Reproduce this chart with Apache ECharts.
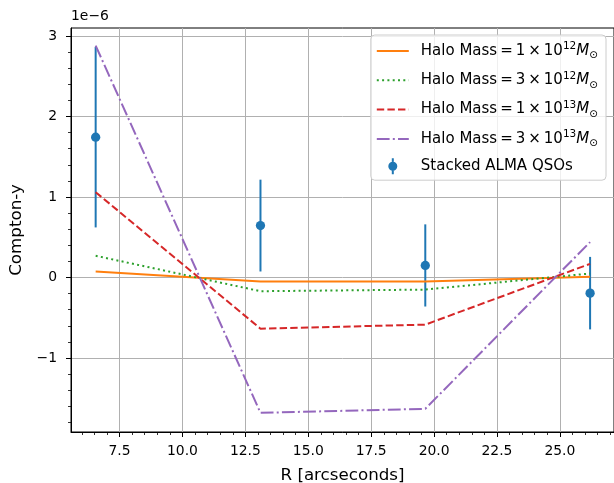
<!DOCTYPE html>
<html><head><meta charset="utf-8">
<script src="https://cdn.jsdelivr.net/npm/echarts@6/dist/echarts.min.js"></script>
<style>html,body{margin:0;padding:0;background:#fff}#c{width:614px;height:483px}</style>
</head><body><div id="c"></div>
<script>
// ---- data (Compton-y in units of 1e-6) ----
const rValues   = [6.55, 13.1, 19.65, 26.2];
const massCoef  = ['1', '3', '1', '3'];
const massExp   = ['12', '12', '13', '13'];
const model1e12 = [0.075, -0.05, -0.05, 0.01];
const model3e12 = [0.27, -0.17, -0.15, 0.05];
const model1e13 = [1.06, -0.635, -0.585, 0.17];
const model3e13 = [2.88, -1.68, -1.63, 0.44];
const qsoY      = [1.742, 0.645, 0.15, -0.194];
const qsoErr    = [1.12, 0.57, 0.51, 0.45];
const qsoName   = 'Stacked ALMA QSOs';
const xMajorTicks = [7.5, 10, 12.5, 15, 17.5, 20, 22.5, 25];
const xMinorTicks = [6, 6.5, 7, 8, 8.5, 9, 9.5, 10.5, 11, 11.5, 12, 13, 13.5, 14, 14.5, 15.5, 16, 16.5, 17,
                     18, 18.5, 19, 19.5, 20.5, 21, 21.5, 22, 23, 23.5, 24, 24.5, 25.5, 26, 26.5, 27];
const yMajorTicks = [-1, 0, 1, 2, 3];
const yMinorTicks = [-1.8, -1.6, -1.4, -1.2, -0.8, -0.6, -0.4, -0.2, 0.2, 0.4, 0.6, 0.8,
                     1.2, 1.4, 1.6, 1.8, 2.2, 2.4, 2.6, 2.8];
const xLabel = 'R [arcseconds]';
const yLabel = 'Compton-y';
const offsetText = '1e\u22126';

// ---- styling ----
const FONT = 'DejaVu Sans';
const LFS = 15;    // legend font size
const X_MIN = 5.57, X_MAX = 27.15, Y_MIN = -1.918, Y_MAX = 3.098;
const models = [model1e12, model3e12, model1e13, model3e13];
const lineColors = ['#ff7f0e', '#2ca02c', '#d62728', '#9467bd'];
const lineTypes = ['solid', [2, 3.3], [7.4, 3.2], [12.8, 3.2, 2, 3.2]];
const lineNames = massCoef.map((c, i) => 'Halo Mass = ' + c + ' \u00d7 10^' + massExp[i] + ' M\u2299');

const chart = echarts.init(document.getElementById('c'), null, {renderer: 'canvas'});

const gridPos = {left: 71, top: 28, right: 0, bottom: 51};

function mainAxisCommon(min, max, ticks) {
  return {
    type: 'value', min: min, max: max,
    axisLine: {show: true, onZero: false, lineStyle: {color: '#000', width: 1}},
    axisTick: {show: true, customValues: ticks, length: 5, lineStyle: {color: '#000', width: 1}},
    axisLabel: {show: true, customValues: ticks, fontFamily: FONT, fontSize: 13.9, color: '#000'},
    splitLine: {show: true, lineStyle: {color: '#b0b0b0', width: 1}},
    minorTick: {show: false}
  };
}
function minorAxis(min, max, ticks, pos) {
  return {
    type: 'value', min: min, max: max, position: pos, offset: 0,
    axisLine: {show: false, onZero: false},
    axisTick: {show: true, customValues: ticks, length: 3, lineStyle: {color: '#000', width: 0.8}},
    axisLabel: {show: false},
    splitLine: {show: false}
  };
}

const xMain = mainAxisCommon(X_MIN, X_MAX, xMajorTicks);
xMain.position = 'bottom';
xMain.axisLabel.margin = 12;
xMain.axisLabel.formatter = v => v.toFixed(1);
xMain.name = xLabel; xMain.nameLocation = 'middle'; xMain.nameGap = 35;
xMain.nameTextStyle = {fontFamily: FONT, fontSize: 16.7, color: '#000'};

const yMain = mainAxisCommon(Y_MIN, Y_MAX, yMajorTicks);
yMain.position = 'left';
yMain.axisLabel.margin = 14;
yMain.axisLabel.formatter = v => String(Math.round(v)).replace('-', '\u2212');
yMain.name = yLabel; yMain.nameLocation = 'middle'; yMain.nameGap = 45;
yMain.nameTextStyle = {fontFamily: FONT, fontSize: 16.7, color: '#000'};

const series = [];
series.push({
  type: 'custom', name: 'errbars', xAxisIndex: 0, yAxisIndex: 0, z: 1, silent: true,
  data: rValues.map((x, i) => [x, qsoY[i] - qsoErr[i], qsoY[i] + qsoErr[i]]),
  encode: {x: 0, y: [1, 2]},
  renderItem: function (params, api) {
    const p1 = api.coord([api.value(0), api.value(1)]);
    const p2 = api.coord([api.value(0), api.value(2)]);
    return {type: 'line', shape: {x1: p1[0], y1: p1[1], x2: p2[0], y2: p2[1]},
            style: {stroke: '#1f77b4', lineWidth: 2}};
  }
});
series.push({
  type: 'scatter', name: qsoName, xAxisIndex: 0, yAxisIndex: 0, z: 1,
  data: rValues.map((x, i) => [x, qsoY[i]]),
  symbol: 'circle', symbolSize: 9.3,
  itemStyle: {color: '#1f77b4', opacity: 1}
});
models.forEach((m, k) => {
  series.push({
    type: 'line', name: lineNames[k], xAxisIndex: 0, yAxisIndex: 0, z: 3,
    data: rValues.map((x, i) => [x, m[i]]),
    symbol: 'none', showSymbol: false,
    lineStyle: {color: lineColors[k], width: 2, type: lineTypes[k], cap: 'butt'},
    itemStyle: {color: lineColors[k]}
  });
});

const errIcon = 'path://M4,0 L6,0 L6,3.5 L4,3.5 Z M4,12.5 L6,12.5 L6,16 L4,16 Z ' +
                'M9.5,8 A4.5,4.5 0 1 1 0.5,8 A4.5,4.5 0 1 1 9.5,8 Z';
const hiddenSymbol = {color: 'rgba(0,0,0,0)', borderColor: 'rgba(0,0,0,0)', borderWidth: 0, opacity: 0};

const option = {
  animation: false,
  backgroundColor: '#ffffff',
  grid: Object.assign({show: true, borderColor: '#000', borderWidth: 1, backgroundColor: 'transparent',
                       containLabel: false, outerBoundsMode: 'none'}, gridPos),
  xAxis: [xMain, minorAxis(X_MIN, X_MAX, xMinorTicks, 'bottom')],
  yAxis: [yMain, minorAxis(Y_MIN, Y_MAX, yMinorTicks, 'left')],
  legend: {
    orient: 'vertical', right: 8, top: 35,
    padding: [6, 8, 6, 5],
    itemGap: 9.3, itemWidth: 32, itemHeight: 16,
    backgroundColor: 'rgba(255,255,255,0.8)', borderColor: '#cccccc', borderWidth: 1, borderRadius: 4,
    selectedMode: false,
    data: lineNames.map(n => ({name: n, itemStyle: hiddenSymbol})).concat([{name: qsoName, icon: errIcon}]),
    formatter: function (name) {
      const i = lineNames.indexOf(name);
      if (i < 0) return '{sp| }{n|' + name + '}';
      return '{sp| }{n|Halo Mass\u2009=\u2009' + massCoef[i] + '\u2009\u00d7\u200910}{sup|' + massExp[i] +
             '}{it|M}{sub|\u2299}';
    },
    textStyle: {
      fontFamily: FONT, fontSize: LFS, color: '#000',
      rich: {
        sp: {width: 7, fontSize: LFS, lineHeight: 20},
        n: {fontFamily: FONT, fontSize: LFS, color: '#000', lineHeight: 20},
        sup: {fontFamily: FONT, fontSize: 10.5, color: '#000', lineHeight: 10, verticalAlign: 'top'},
        it: {fontFamily: FONT, fontSize: LFS, fontStyle: 'italic', color: '#000', lineHeight: 20},
        sub: {fontFamily: FONT, fontSize: 10.5, color: '#000', lineHeight: 14, verticalAlign: 'bottom'}
      }
    }
  },
  graphic: [{
    type: 'text', left: 71, top: 9,
    style: {text: offsetText, fontFamily: FONT, fontSize: 13.9, fill: '#000'}
  }],
  series: series
};
chart.setOption(option);
</script>
</body></html>
